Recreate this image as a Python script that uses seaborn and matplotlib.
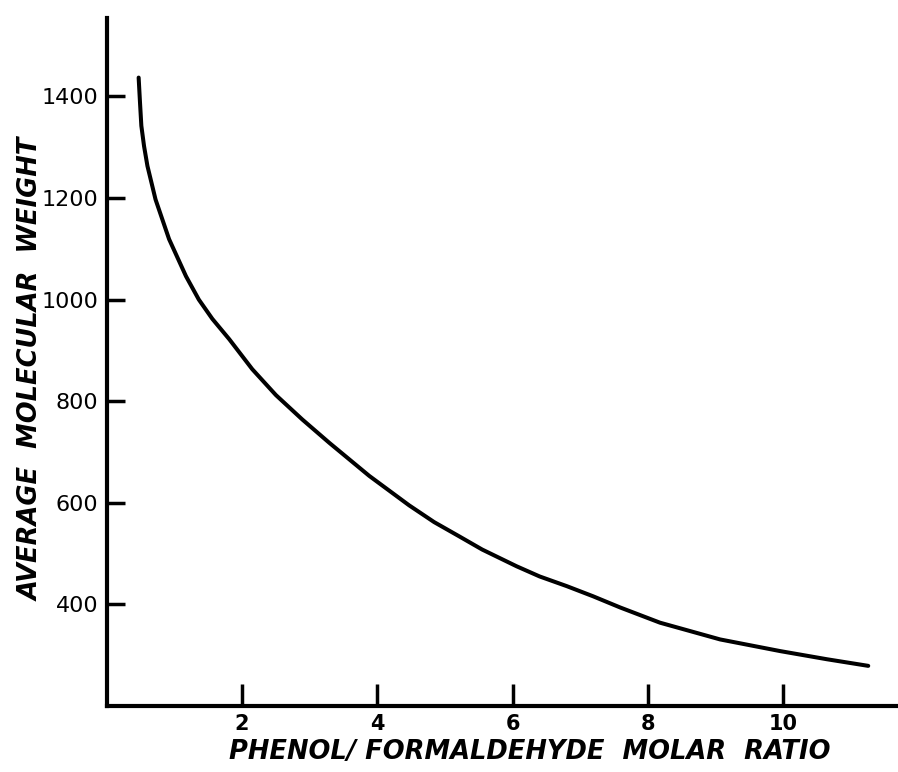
import matplotlib
matplotlib.use("Agg")
import matplotlib.pyplot as plt
import seaborn as sns
import pandas as pd

# values
ratio = [0.47, 0.49, 0.51, 0.55, 0.60, 0.72, 0.92, 1.17, 1.36, 1.56, 1.81,
         2.15, 2.50, 2.89, 3.29, 3.88, 4.47, 4.84, 5.21, 5.55, 6.06, 6.40,
         6.80, 7.19, 7.59, 8.18, 9.07, 9.96, 10.65, 11.26]
mol_weight = [1437, 1388, 1342, 1302, 1263, 1197, 1119, 1046, 1000, 962, 922,
              863, 812, 764, 718, 653, 595, 562, 534, 508, 475, 455,
              436, 416, 394, 364, 331, 308, 292, 279]
x_ticks = [2, 4, 6, 8, 10]
y_ticks = [400, 600, 800, 1000, 1200, 1400]

df = pd.DataFrame({"ratio": ratio, "mw": mol_weight})

sns.set_style("ticks")
plt.rcParams['font.family'] = ['DejaVu Sans']

fig = plt.figure(figsize=(8.98, 7.72), dpi=100)
ax = fig.add_axes([0.119, 0.0855, 0.881, 0.891])

sns.lineplot(data=df, x="ratio", y="mw", color="black", linewidth=2.9, ax=ax)

ax.set_xlim(0, 11.7)
ax.set_ylim(200, 1554)
ax.set_xticks(x_ticks)
ax.set_yticks(y_ticks)
ax.set_xticklabels([str(t) for t in x_ticks], fontsize=15, fontweight="bold", color="black")
ax.set_yticklabels([str(t) for t in y_ticks], fontsize=16, color="black")

ax.tick_params(axis="x", direction="in", length=16, width=2.5, pad=6, colors="black")
ax.tick_params(axis="y", direction="in", length=13, width=2.5, pad=6, colors="black")

sns.despine(ax=ax)
for s in ["left", "bottom"]:
    ax.spines[s].set_linewidth(3)
    ax.spines[s].set_color("black")

ax.set_xlabel("PHENOL/ FORMALDEHYDE  MOLAR  RATIO", fontsize=18.5, color="black",
              fontweight="bold", fontstyle="italic")
ax.set_ylabel("AVERAGE  MOLECULAR  WEIGHT", fontsize=18.5, color="black",
              fontweight="bold", fontstyle="italic")
ax.yaxis.set_label_coords(-0.078, 0.49)
ax.xaxis.set_label_coords(0.535, -0.048)

fig.savefig("out.png", dpi=100, facecolor="white")
